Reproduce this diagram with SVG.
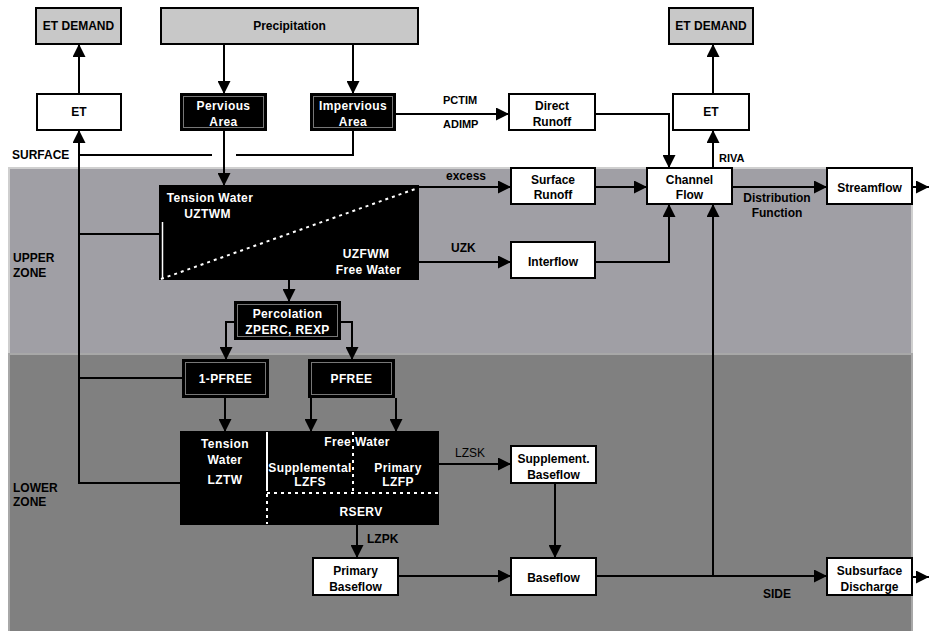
<svg xmlns="http://www.w3.org/2000/svg" width="929" height="631" viewBox="0 0 929 631">
<defs>
<marker id="ah" markerUnits="userSpaceOnUse" markerWidth="13" markerHeight="13" refX="13" refY="6.5" orient="auto">
<path d="M0,0 L13,6.5 L0,13 z" fill="#000"/>
</marker>
<style>
text{font-family:"Liberation Sans",Arial,sans-serif;font-weight:bold;font-size:12px;fill:#000}
.c{text-anchor:middle}
.w{fill:#fff;letter-spacing:0.4px}
.n{font-weight:normal}
.s{font-size:11px}
.box{fill:#fff;stroke:#000;stroke-width:2}
.gbox{fill:#c8c8c8;stroke:#000;stroke-width:2}
.bbox{fill:#000;stroke:#000;stroke-width:2}
.inner{fill:none;stroke:#777;stroke-width:1}
.ln{fill:none;stroke:#000;stroke-width:2}
.ar{fill:none;stroke:#000;stroke-width:2;marker-end:url(#ah)}
.dot{fill:none;stroke:#fff;stroke-width:2;stroke-dasharray:3,4}
</style>
</defs>
<rect width="929" height="631" fill="#fff"/>
<g id="zones">
<rect x="9" y="168" width="903" height="186" fill="#a09fa5" stroke="#cfcfcf" stroke-width="2"/>
<rect x="9" y="354" width="903" height="278" fill="#808080" stroke="#a8a8a8" stroke-width="2"/>
<text x="12" y="159">SURFACE</text>
<text x="13" y="262">UPPER</text>
<text x="13" y="277">ZONE</text>
<text x="13" y="492">LOWER</text>
<text x="13" y="506">ZONE</text>
</g>
<g id="connectors">
<path class="ar" d="M79,94 V44"/>
<path class="ar" d="M181,483 H79 V130"/>
<path class="ln" d="M160,234 H79"/>
<path class="ln" d="M183,378 H79"/>
<path class="ln" d="M79,155 H212"/>
<path class="ln" d="M236,155 H353 V130"/>
<path class="ar" d="M224,44 V94"/>
<path class="ar" d="M353,44 V94"/>
<path class="ar" d="M224,130 V186"/>
<path class="ar" d="M395,114 H509"/>
<path class="ar" d="M595,114 H669 V168"/>
<path class="ar" d="M713,168 V130"/>
<path class="ar" d="M713,94 V44"/>
<path class="ar" d="M418,187 H511"/>
<path class="ar" d="M595,187 H647"/>
<path class="ar" d="M732,187 H827"/>
<path class="ar" d="M912,187 H929"/>
<path class="ar" d="M418,262 H511"/>
<path class="ar" d="M595,262 H669 V204"/>
<path class="ar" d="M289,279 V302"/>
<path class="ar" d="M235,322 H226 V360"/>
<path class="ar" d="M340,322 H352 V360"/>
<path class="ar" d="M225,397 V432"/>
<path class="ar" d="M311,397 V432"/>
<path class="ar" d="M396,398 V432"/>
<path class="ar" d="M438,464 H511"/>
<path class="ar" d="M357,524 V558"/>
<path class="ar" d="M398,576 H511"/>
<path class="ar" d="M555,483 V558"/>
<path class="ar" d="M596,576 H827"/>
<path class="ar" d="M713,576 V204"/>
<path class="ar" d="M912,577 H929"/>
</g>
<g id="labels">
<text x="443" y="104" class="s">PCTIM</text>
<text x="443" y="128" class="s">ADIMP</text>
<text x="719" y="162" class="s">RIVA</text>
<text x="446" y="180">excess</text>
<text x="777" y="202" class="c">Distribution</text>
<text x="777" y="217" class="c">Function</text>
<text x="451" y="252">UZK</text>
<text x="455" y="457" class="n">LZSK</text>
<text x="367" y="543">LZPK</text>
<text x="763" y="598">SIDE</text>
</g>
<g id="et-demand-left"><rect class="gbox" x="36" y="8" width="85" height="36"/><text class="c" x="78.5" y="30">ET DEMAND</text></g>
<g id="precipitation"><rect class="gbox" x="161" y="8" width="257" height="36"/><text class="c" x="289.5" y="30">Precipitation</text></g>
<g id="et-left"><rect class="box" x="37" y="94" width="84" height="36"/><text class="c" x="79" y="116">ET</text></g>
<g id="pervious"><rect class="bbox" x="181" y="94" width="85" height="36"/><rect class="inner" x="183.5" y="96.5" width="80" height="31"/><text class="c w" x="223.5" y="110">Pervious</text><text class="c w" x="223.5" y="126">Area</text></g>
<g id="impervious"><rect class="bbox" x="311" y="94" width="84" height="36"/><rect class="inner" x="313.5" y="96.5" width="79" height="31"/><text class="c w" x="353" y="110">Impervious</text><text class="c w" x="353" y="126">Area</text></g>
<g id="direct-runoff"><rect class="box" x="509" y="94" width="86" height="36"/><text class="c" x="552" y="110">Direct</text><text class="c" x="552" y="126">Runoff</text></g>
<g id="et-right"><rect class="box" x="673" y="94" width="76" height="36"/><text class="c" x="711" y="116">ET</text></g>
<g id="et-demand-right"><rect class="gbox" x="669" y="8" width="84" height="36"/><text class="c" x="711" y="30">ET DEMAND</text></g>
<g id="surface-runoff"><rect class="box" x="511" y="168" width="84" height="36"/><text class="c" x="553" y="184">Surface</text><text class="c" x="553" y="199">Runoff</text></g>
<g id="channel-flow"><rect class="box" x="647" y="168" width="85" height="36"/><text class="c" x="689.5" y="184">Channel</text><text class="c" x="689.5" y="199">Flow</text></g>
<g id="streamflow"><rect class="box" x="827" y="168" width="85" height="36"/><text class="c" x="869.5" y="192">Streamflow</text></g>
<g id="interflow"><rect class="box" x="511" y="242" width="84" height="36"/><text class="c" x="553" y="266">Interflow</text></g>
<g id="upper-zone-storage"><rect class="bbox" x="160" y="186" width="258" height="93"/><path d="M162.5,222 V279" stroke="#fff" stroke-width="1.5"/><path class="dot" d="M161,279 L418,188"/><text class="c w" x="210" y="202">Tension Water</text><text class="c w" x="207.5" y="218">UZTWM</text><text class="c w" x="366" y="258">UZFWM</text><text class="c w" x="368.5" y="274">Free Water</text></g>
<g id="percolation"><rect class="bbox" x="235" y="302" width="105" height="37"/><rect class="inner" x="237.5" y="304.5" width="100" height="32"/><text class="c w" x="287.5" y="318">Percolation</text><text class="c w" x="287.5" y="334">ZPERC, REXP</text></g>
<g id="one-minus-pfree"><rect class="bbox" x="183" y="360" width="85" height="37"/><rect class="inner" x="185.5" y="362.5" width="80" height="32"/><text class="c w" x="225.5" y="383">1-PFREE</text></g>
<g id="pfree"><rect class="bbox" x="309" y="360" width="85" height="37"/><rect class="inner" x="311.5" y="362.5" width="80" height="32"/><text class="c w" x="351.5" y="383">PFREE</text></g>
<g id="lower-zone-storage"><rect class="bbox" x="181" y="432" width="257" height="92"/><path d="M267,432 V491" stroke="#fff" stroke-width="2"/><path class="dot" d="M267,494 V524"/><path class="dot" d="M267,493 H441"/><path class="dot" d="M353,432 V491"/><text class="c w" x="225" y="448">Tension</text><text class="c w" x="225" y="464">Water</text><text class="c w" x="225" y="484">LZTW</text><text class="c w" x="357" y="446">Free Water</text><text class="c w" x="310" y="472">Supplemental</text><text class="c w" x="310" y="486">LZFS</text><text class="c w" x="398" y="472">Primary</text><text class="c w" x="398" y="486">LZFP</text><text class="c w" x="361" y="516">RSERV</text></g>
<g id="supplement-baseflow"><rect class="box" x="511" y="446" width="85" height="37"/><text class="c" x="553.5" y="463">Supplement.</text><text class="c" x="553.5" y="479">Baseflow</text></g>
<g id="primary-baseflow"><rect class="box" x="313" y="558" width="85" height="37"/><text class="c" x="355.5" y="575">Primary</text><text class="c" x="355.5" y="591">Baseflow</text></g>
<g id="baseflow"><rect class="box" x="511" y="558" width="85" height="37"/><text class="c" x="553.5" y="582">Baseflow</text></g>
<g id="subsurface-discharge"><rect class="box" x="827" y="558" width="85" height="37"/><text class="c" x="869.5" y="575">Subsurface</text><text class="c" x="869.5" y="591">Discharge</text></g>
</svg>
